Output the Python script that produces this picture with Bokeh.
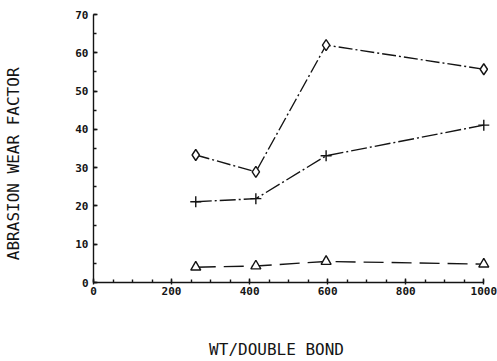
from bokeh.plotting import figure
from bokeh.models import Range1d, FixedTicker, LinearAxis
from bokeh.embed import file_html
from bokeh.resources import INLINE

# Molecular weight per double bond
wt_per_double_bond = [262, 416, 596, 1000]

# Abrasion wear factor for the three formulations
wear_diamond = [33.3, 28.9, 62.0, 55.7]
wear_plus = [21.1, 21.9, 33.1, 41.1]
wear_triangle = [4.0, 4.3, 5.5, 4.8]

x_ticks = [0, 200, 400, 600, 800, 1000]
y_ticks = [0, 10, 20, 30, 40, 50, 60, 70]

INK = "#141414"
MONO = "DejaVu Sans Mono"

# A little room past x=1000 so the end markers are not clipped
p = figure(width=497, height=361, output_backend="svg", toolbar_location=None,
           x_range=Range1d(0, 1030), y_range=Range1d(0, 70),
           min_border_left=93, min_border_right=2,
           min_border_top=14, min_border_bottom=78)
p.outline_line_color = None
p.grid.visible = False
p.background_fill_color = "white"
p.border_fill_color = "white"

# Curves
p.line(wt_per_double_bond, wear_diamond, line_color=INK, line_width=1.4,
       line_dash="14 3 2 3")
p.scatter(wt_per_double_bond, wear_diamond, marker="diamond", size=11,
          fill_color="white", line_color=INK, line_width=1.4)

p.line(wt_per_double_bond, wear_plus, line_color=INK, line_width=1.4,
       line_dash="16 3 2 3")
p.scatter(wt_per_double_bond, wear_plus, marker="cross", size=11,
          line_color=INK, line_width=1.4)

p.line(wt_per_double_bond, wear_triangle, line_color=INK, line_width=1.4,
       line_dash="20 8")
p.scatter(wt_per_double_bond, wear_triangle, marker="triangle", size=10,
          fill_color="white", line_color=INK, line_width=1.4)

# Axes
for ax in (p.xaxis[0], p.yaxis[0]):
    ax.axis_line_color = INK
    ax.axis_line_width = 1.4
    ax.major_tick_line_color = INK
    ax.minor_tick_line_color = INK
    ax.major_tick_line_width = 1.4
    ax.minor_tick_line_width = 1.4
    ax.major_label_text_font = MONO
    ax.major_label_text_font_style = "bold"
    ax.major_label_text_font_size = "11px"
    ax.major_label_text_color = INK

p.xaxis.bounds = (0, 1000)
p.yaxis.bounds = (0, 70)
p.xaxis.ticker = FixedTicker(ticks=x_ticks,
                             minor_ticks=list(range(0, 1001, 50)))
p.yaxis.ticker = FixedTicker(ticks=y_ticks,
                             minor_ticks=list(range(0, 71, 5)))
p.xaxis.major_tick_in = 4
p.xaxis.major_tick_out = 2
p.xaxis.minor_tick_in = 3
p.xaxis.minor_tick_out = 0
p.yaxis.major_tick_in = 4
p.yaxis.major_tick_out = 0
p.yaxis.minor_tick_in = 3
p.yaxis.minor_tick_out = 0
p.xaxis.major_label_standoff = 2
p.yaxis.major_label_standoff = 5


# Axis titles: a bare outer axis whose single tick label is the title,
# which lets the title sit at a chosen position along the axis
def title_axis(text, at, standoff, orientation="horizontal"):
    return LinearAxis(ticker=FixedTicker(ticks=[at]),
                      major_label_overrides={at: text},
                      major_label_orientation=orientation,
                      major_label_standoff=standoff,
                      major_label_text_font=MONO,
                      major_label_text_font_size="16px",
                      major_label_text_font_style="normal",
                      major_label_text_color=INK,
                      axis_line_color=None, major_tick_line_color=None,
                      minor_tick_line_color=None,
                      major_tick_in=0, major_tick_out=0,
                      minor_tick_in=0, minor_tick_out=0)


p.add_layout(title_axis("WT/DOUBLE BOND", 469, 42), "below")
p.add_layout(title_axis("ABRASION WEAR FACTOR", 31, 49, "vertical"), "left")

open("out.html", "w").write(file_html(p, INLINE))
